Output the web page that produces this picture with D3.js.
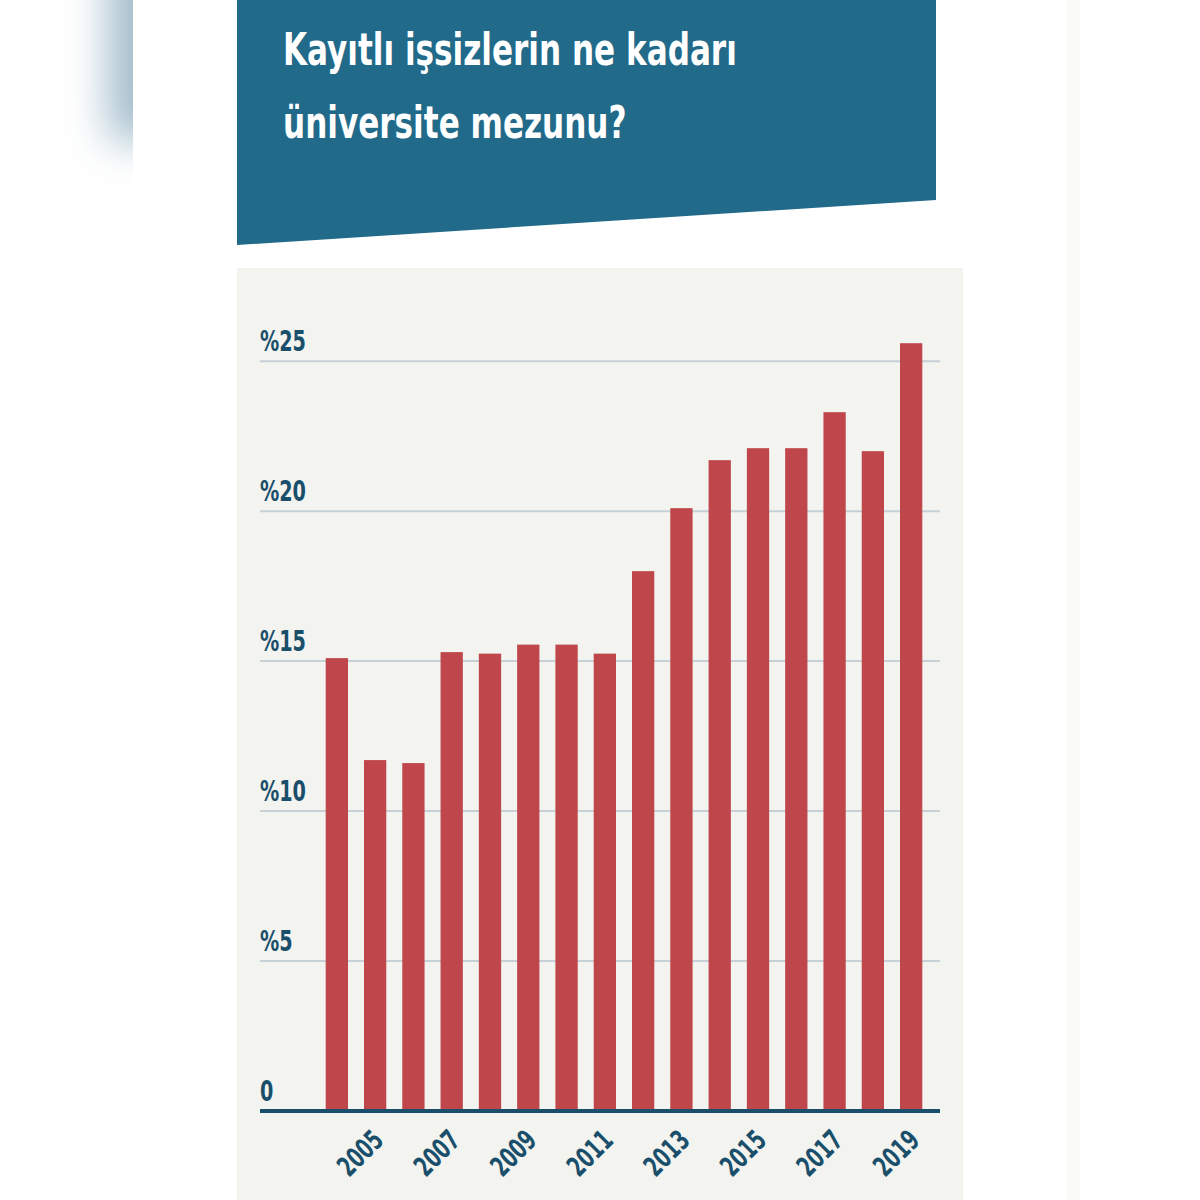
<!DOCTYPE html>
<html>
<head>
<meta charset="utf-8">
<script src="https://cdn.jsdelivr.net/npm/d3@7"></script>
<style>
  body { margin: 0; background: #fff; }
  svg { display: block; }
</style>
</head>
<body>
<main></main>
<script>
const years = ["2004","2005","2006","2007","2008","2009","2010","2011","2012","2013","2014","2015","2016","2017","2018","2019"];
const shares = [15.1, 11.7, 11.6, 15.3, 15.25, 15.55, 15.55, 15.25, 18.0, 20.1, 21.7, 22.1, 22.1, 23.3, 22.0, 25.6];
const yTicks = [0, 5, 10, 15, 20, 25];
const yearLabels = ["2005","2007","2009","2011","2013","2015","2017","2019"];
const titleLines = ["Kayıtlı işsizlerin ne kadarı", "üniversite mezunu?"];

const w = 1200;
const h = 1200;
const font = "'Liberation Sans Narrow', 'DejaVu Sans Condensed', 'DejaVu Sans', sans-serif";
const navy = "#1a4f6b";

const svg = d3.select("main")
  .append("svg")
  .attr("width", w)
  .attr("height", h);

// soft edge shadow on the left, like the original screenshot
const defs = svg.append("defs");
defs.append("filter").attr("id", "blur")
  .attr("x", "-100%").attr("y", "-100%").attr("width", "300%").attr("height", "300%")
  .append("feGaussianBlur").attr("stdDeviation", 22);
defs.append("clipPath").attr("id", "leftClip")
  .append("rect").attr("x", 0).attr("y", 0).attr("width", 133).attr("height", h);

svg.append("g").attr("clip-path", "url(#leftClip)")
  .append("rect")
  .attr("x", 110).attr("y", -60).attr("width", 60).attr("height", 200)
  .attr("fill", "#8aaabe")
  .attr("opacity", 0.85)
  .attr("filter", "url(#blur)");

svg.append("rect")
  .attr("x", 1066).attr("y", 0).attr("width", 14).attr("height", h)
  .attr("fill", "#fafaf9");

// header
svg.append("polygon")
  .attr("points", "237,0 936,0 936,200 237,245")
  .attr("fill", "#216a8a");

// squeeze text horizontally so it looks like the narrow font of the original
function squeeze(sel, targetWidth, sample) {
  const probe = svg.append("text")
    .style("font-family", font)
    .style("font-weight", "bold")
    .style("font-size", sel.style("font-size"))
    .text(sample);
  const k = targetWidth / probe.node().getComputedTextLength();
  probe.remove();
  return k;
}

const titleSel = svg.selectAll("text.title")
  .data(titleLines)
  .enter()
  .append("text")
  .attr("class", "title")
  .attr("fill", "white")
  .style("font-family", font)
  .style("font-weight", "bold")
  .style("font-size", "45px")
  .text(d => d);
const kTitle = squeeze(titleSel, 454, titleLines[0]);
titleSel.attr("transform", (d, i) => `translate(283,${65 + i * 73})scale(${kTitle},1)`);

// chart panel
svg.append("rect")
  .attr("x", 237).attr("y", 268)
  .attr("width", 726).attr("height", h - 268)
  .attr("fill", "#f3f3ef");

const x = d3.scaleBand()
  .domain(years)
  .range([325.7, 922.3])
  .paddingInner(0.418)
  .paddingOuter(0);

const y = d3.scaleLinear()
  .domain([0, 25])
  .range([1111, 361.2]);

svg.selectAll("line.grid")
  .data(yTicks.filter(t => t > 0))
  .enter()
  .append("line")
  .attr("class", "grid")
  .attr("x1", 260).attr("x2", 940)
  .attr("y1", d => y(d)).attr("y2", d => y(d))
  .attr("stroke", "#c6d0d7")
  .attr("stroke-width", 2);

const ySel = svg.selectAll("text.ytick")
  .data(yTicks)
  .enter()
  .append("text")
  .attr("class", "ytick")
  .attr("fill", navy)
  .style("font-family", font)
  .style("font-weight", "bold")
  .style("font-size", "29px")
  .text(d => d === 0 ? "0" : "%" + d);
const kY = squeeze(ySel, 46, "%25");
ySel.attr("transform", d => `translate(260,${y(d) - 10.5})scale(${kY},1)`);

svg.selectAll("rect.bar")
  .data(years)
  .enter()
  .append("rect")
  .attr("class", "bar")
  .attr("x", d => x(d))
  .attr("width", x.bandwidth())
  .attr("y", (d, i) => y(shares[i]))
  .attr("height", (d, i) => y(0) - y(shares[i]))
  .attr("fill", "#bf464a");

svg.append("line")
  .attr("x1", 260).attr("x2", 940)
  .attr("y1", y(0)).attr("y2", y(0))
  .attr("stroke", navy)
  .attr("stroke-width", 4);

const xSel = svg.selectAll("text.xtick")
  .data(yearLabels)
  .enter()
  .append("text")
  .attr("class", "xtick")
  .attr("text-anchor", "end")
  .attr("fill", navy)
  .style("font-family", font)
  .style("font-weight", "bold")
  .style("font-size", "28px")
  .text(d => d);
const kX = squeeze(xSel, 51, "2005");
xSel.attr("transform", d => `translate(${x(d) + x.bandwidth() / 2 + 10},1142)rotate(-45)scale(${kX},1)`);
</script>
</body>
</html>
